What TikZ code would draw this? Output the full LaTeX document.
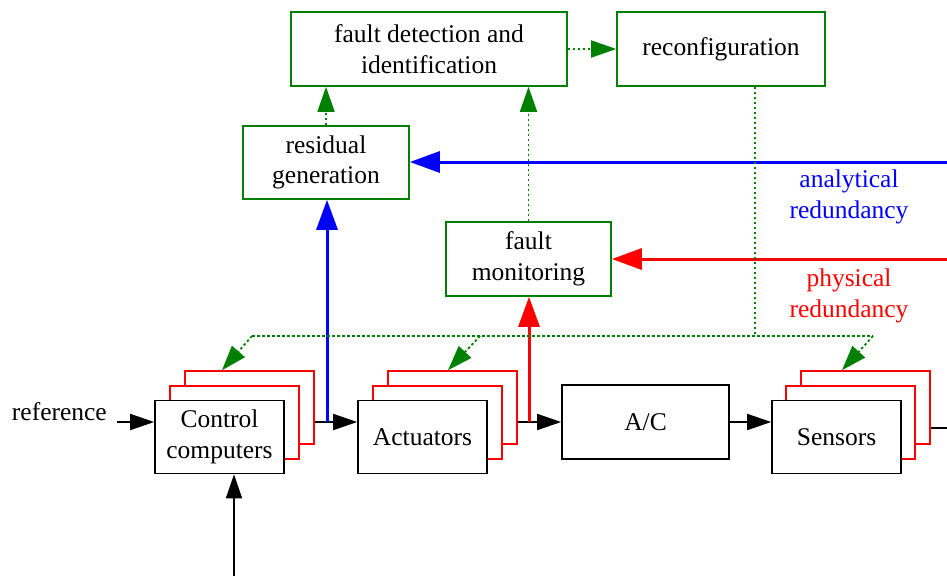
\documentclass[tikz,border=0pt]{standalone}
\usepackage{fontspec}
\setmainfont{Liberation Serif}
\usetikzlibrary{arrows.meta}
\definecolor{dgreen}{RGB}{0,128,0}
\begin{document}
\begin{tikzpicture}[x=1pt,y=-1pt,
 txt/.style={font=\fontsize{25.5}{30.5}\selectfont,align=center},
 box/.style={txt,draw=black,line width=1.6pt,fill=white,minimum width=129pt,minimum height=73pt,inner sep=0pt},
 card/.style={draw=red,line width=1.6pt,fill=white,minimum width=129pt,minimum height=73pt,inner sep=0pt},
 gbox/.style={txt,draw=dgreen,line width=1.6pt,fill=white,inner sep=0pt},
 blk/.style={line width=1.6pt,-{Triangle[length=24pt,width=16pt]}},
 blu/.style={draw=blue,line width=3pt,-{Triangle[length=30pt,width=21pt]}},
 rd/.style={draw=red,line width=3pt,-{Triangle[length=30pt,width=21pt]}},
 gdot/.style={draw=dgreen,line width=1.8pt,dash pattern=on 2.5pt off 2.5pt},
 garr/.style={gdot,-{Triangle[length=25pt,width=17pt]}},
]
\useasboundingbox (0,0) rectangle (947,576);

% green boxes
\node[gbox,minimum width=276pt,minimum height=74pt] (fdi) at (429,49) {fault detection and\\identification};
\node[gbox,minimum width=208pt,minimum height=74pt] (rec) at (721,49) {reconfiguration};
\node[gbox,minimum width=166pt,minimum height=73pt] (res) at (326,162.5) {residual\\generation};
\node[gbox,minimum width=165pt,minimum height=74pt] (fm) at (528.5,259) {fault\\monitoring};

% control computers stack
\node[card] (cc3) at (249.5,407.5) {};
\node[card] (cc2) at (234.5,422.5) {};
\node[box] (cc) at (219.5,437) {Control\\computers};
% actuators stack
\node[card] (ac3) at (452.5,407.5) {};
\node[card] (ac2) at (437.5,422.5) {};
\node[box] (ac) at (422.5,437) {Actuators};
% A/C
\node[box,minimum width=167pt,minimum height=74pt] (plant) at (645.5,422) {A/C};
% sensors stack
\node[card] (se3) at (865.5,407.5) {};
\node[card] (se2) at (850.5,422.5) {};
\node[box] (se) at (836.5,437) {Sensors};

% reference input
\node[txt,anchor=east,inner sep=0pt] (ref) at (107,412) {reference};
\coordinate (refs) at (117,422);
\draw[blk] (refs) -- (cc.west |- refs);
% bottom input
\coordinate (bot) at (234,576);
\draw[blk] (bot) -- (bot |- cc.south);

% main chain
\coordinate (o1) at (cc3.east |- refs);
\draw[blk] (o1) -- (ac.west |- o1);
\coordinate (o2) at (ac3.east |- refs);
\draw[blk] (o2) -- (plant.west |- o2);
\draw[blk] (plant.east) -- (se.west |- plant.east);
\coordinate (o3) at (se3.east |- 0,428);
\coordinate (oend) at (947,428);
\draw[line width=1.6pt] (o3) -- (oend);

% analytical redundancy
\coordinate (b1) at (327,422);
\draw[blu] (b1) -- (b1 |- res.south);
\coordinate (bin) at (947,162);
\draw[blu] (bin) -- (res.east |- bin);
\node[txt,text=blue] (alab) at (849,197) {analytical\\redundancy};

% physical redundancy
\coordinate (r1) at (529,422);
\draw[rd] (r1) -- (r1 |- fm.south);
\coordinate (rin) at (947,259);
\draw[rd] (rin) -- (fm.east |- rin);
\node[txt,text=red] (plab) at (849,296) {physical\\redundancy};

% green dotted links
\draw[garr] (res.north) -- (res.north |- fdi.south);
\draw[garr] (fm.north) -- (fm.north |- fdi.south);
\draw[garr] (fdi.east) -- (rec.west);
\coordinate (hl) at (252,336);
\coordinate (ha) at (480,336);
\coordinate (hr) at (873,336);
\coordinate (rv) at (755,336);
\draw[gdot] (rec.south -| rv) -- (rv);
\draw[gdot] (hl) -- (hr);
\draw[garr] (hl) -- ([xshift=-27.5pt]cc3.north);
\draw[garr] (ha) -- ([xshift=-4.5pt]ac3.north);
\draw[garr] (hr) -- ([xshift=-23.5pt]se3.north);
\end{tikzpicture}
\end{document}
